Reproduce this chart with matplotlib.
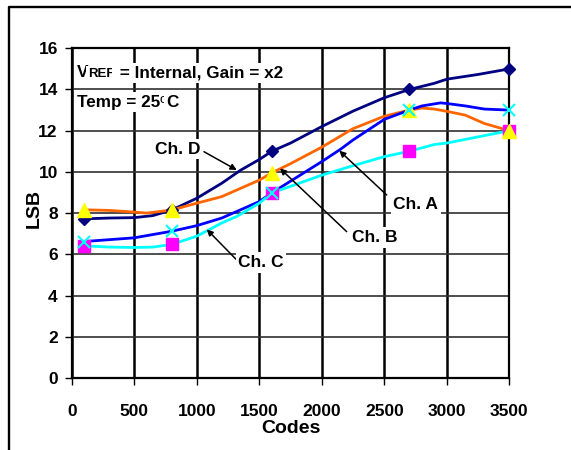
import matplotlib
matplotlib.use("Agg")
import matplotlib.pyplot as plt
from matplotlib.lines import Line2D

plt.rcParams['font.family'] = ['Liberation Sans', 'DejaVu Sans']
plt.rcParams['font.weight'] = 'bold'

# ---- data ----
codes_d = [100, 300, 500, 650, 800, 1000, 1200, 1350, 1500, 1600, 1750, 2000, 2250, 2500, 2700, 2900, 3000, 3250, 3500]
ch_d = [7.72, 7.76, 7.78, 7.88, 8.15, 8.72, 9.45, 10.08, 10.6, 11.0, 11.4, 12.2, 12.95, 13.6, 14.0, 14.3, 14.5, 14.73, 15.0]

codes_b = [100, 300, 500, 600, 800, 1000, 1200, 1500, 1600, 1750, 2000, 2250, 2500, 2700, 2800, 2900, 3000, 3150, 3300, 3500]
ch_b = [8.16, 8.13, 8.05, 8.0, 8.15, 8.48, 8.8, 9.6, 9.95, 10.4, 11.2, 12.1, 12.7, 13.0, 13.1, 13.05, 12.94, 12.75, 12.35, 12.0]

codes_a = [100, 500, 800, 1000, 1200, 1320, 1500, 1600, 1750, 2000, 2150, 2250, 2500, 2700, 2800, 2950, 3000, 3150, 3300, 3500]
ch_a = [6.62, 6.8, 7.12, 7.39, 7.76, 8.08, 8.56, 8.98, 9.55, 10.5, 11.1, 11.55, 12.55, 13.0, 13.2, 13.35, 13.32, 13.2, 13.05, 13.0]

codes_c = [100, 300, 500, 650, 800, 1000, 1100, 1200, 1320, 1500, 1600, 1750, 2000, 2250, 2500, 2700, 2900, 3000, 3250, 3500]
ch_c = [6.41, 6.35, 6.33, 6.35, 6.48, 6.88, 7.2, 7.52, 7.84, 8.48, 8.98, 9.3, 9.84, 10.3, 10.74, 11.0, 11.33, 11.4, 11.7, 12.0]

mark_codes = [100, 800, 1600, 2700, 3500]
mark_d = [7.72, 8.15, 11.0, 14.0, 15.0]
mark_b = [8.16, 8.15, 9.95, 13.0, 12.0]
mark_a = [6.62, 7.12, 8.98, 13.0, 13.0]
mark_c = [6.41, 6.48, 8.98, 11.0, 12.0]

x_ticks = [0, 500, 1000, 1500, 2000, 2500, 3000, 3500]
y_ticks = [0, 2, 4, 6, 8, 10, 12, 14, 16]

# ---- figure ----
fig = plt.figure(figsize=(5.71, 4.5), dpi=100)
ax = fig.add_axes([0.1256, 0.1602, 0.7664, 0.7325])

ax.set_xlim(0, 3500)
ax.set_ylim(0, 16)
ax.set_xticks(x_ticks)
ax.set_yticks(y_ticks)
ax.set_xticklabels([str(v) for v in x_ticks], fontsize=12.5, fontweight='bold')
ax.set_yticklabels([str(v) for v in y_ticks], fontsize=12.5, fontweight='bold')
ax.tick_params(axis='x', direction='out', length=5, width=1, pad=14)
ax.tick_params(axis='y', direction='out', length=5, width=1, pad=5)

ax.set_axisbelow(True)
ax.grid(True, axis='x', color='black', linewidth=1.8, linestyle='-')
ax.grid(True, axis='y', color='#303030', linewidth=1.2, linestyle='-')

ax.plot(codes_d, ch_d, color='#000080', lw=2, zorder=3)
ax.plot(codes_b, ch_b, color='#FF6600', lw=2, zorder=3)
ax.plot(codes_a, ch_a, color='#0000FF', lw=2, zorder=3)
ax.plot(codes_c, ch_c, color='#00FFFF', lw=2, zorder=3)

ax.plot(mark_codes, mark_c, ls='none', marker='s', ms=9, color='#FF00FF', mec='#FF00FF', zorder=4, clip_on=False)
ax.plot(mark_codes, mark_d, ls='none', marker='D', ms=6.5, color='#000080', zorder=4, clip_on=False)
ax.plot(mark_codes, mark_b, ls='none', marker='^', ms=10, color='#FFFF00', mec='#FFFF00', zorder=5, clip_on=False)
ax.plot(mark_codes, mark_a, ls='none', marker='x', ms=9, mew=1.5, color='#00FFFF', zorder=6, clip_on=False)

for s in ax.spines.values():
    s.set_color('black')
    s.set_linewidth(1.6)

ax.text(0.5, -0.152, 'Codes', transform=ax.transAxes, ha='center', va='center',
        fontsize=14, fontweight='bold')
ax.text(-0.0846, 0.515, 'LSB', transform=ax.transAxes, ha='center', va='center',
        rotation=90, fontsize=14, fontweight='bold')

# ---- annotation text with white background ----
bb = dict(boxstyle='square,pad=0.15', fc='white', ec='none')
fs = 12.3
t1 = ax.text(0.0114, 0.912, 'V', transform=ax.transAxes, fontsize=fs, fontweight='bold',
             ha='left', va='baseline', bbox=bb, zorder=7)
t2 = ax.annotate('REF', xy=(1, 0), xycoords=t1, fontsize=9.5, fontweight='bold',
                 ha='left', va='bottom', bbox=bb, zorder=7)
t3 = ax.annotate(' = Internal, Gain = x2', xy=(1, 0), xycoords=t2, fontsize=fs, fontweight='bold',
                 ha='left', va='bottom', bbox=bb, zorder=7)

t4 = ax.text(0.0114, 0.823, 'Temp = 25', transform=ax.transAxes, fontsize=fs, fontweight='bold',
             ha='left', va='baseline', bbox=bb, zorder=7)
t5 = ax.annotate('o', xy=(1, 1), xycoords=t4, xytext=(-0.5, 0.5), textcoords='offset points',
                 fontsize=9.5, fontweight='normal', ha='left', va='top', zorder=7)
t6 = ax.annotate('C', xy=(1, 0), xycoords=(t5, t4), fontsize=fs, fontweight='bold',
                 ha='left', va='bottom', bbox=bb, zorder=7)

# ---- channel labels and arrows ----
labels = ['Ch. D', 'Ch. A', 'Ch. B', 'Ch. C']
label_pos = [(850, 11.11), (2753, 8.42), (2426, 6.82), (1514, 5.60)]
arrow_tail = [(1058, 10.98), (2519, 8.88), (2199, 7.10), (1314, 5.76)]
arrow_head = [(1320, 10.09), (2140, 11.03), (1666, 10.17), (1080, 7.21)]

for lab, pos, tail, head in zip(labels, label_pos, arrow_tail, arrow_head):
    ax.annotate('', xy=head, xytext=tail,
                arrowprops=dict(arrowstyle='-|>', color='black', lw=1.1,
                                mutation_scale=9, shrinkA=0, shrinkB=0), zorder=6)
    ax.text(pos[0], pos[1], lab, ha='center', va='center', fontsize=12.5,
            fontweight='bold', bbox=dict(boxstyle='square,pad=0.15', fc='white', ec='none'), zorder=7)

# ---- outer frame (partially cut off) ----
fig.add_artist(Line2D([9 / 571, 9 / 571, 1.0], [0.0, 1 - 7.3 / 450, 1 - 7.3 / 450],
                      transform=fig.transFigure, color='black', lw=1.7))

fig.savefig('out.png', dpi=100)
